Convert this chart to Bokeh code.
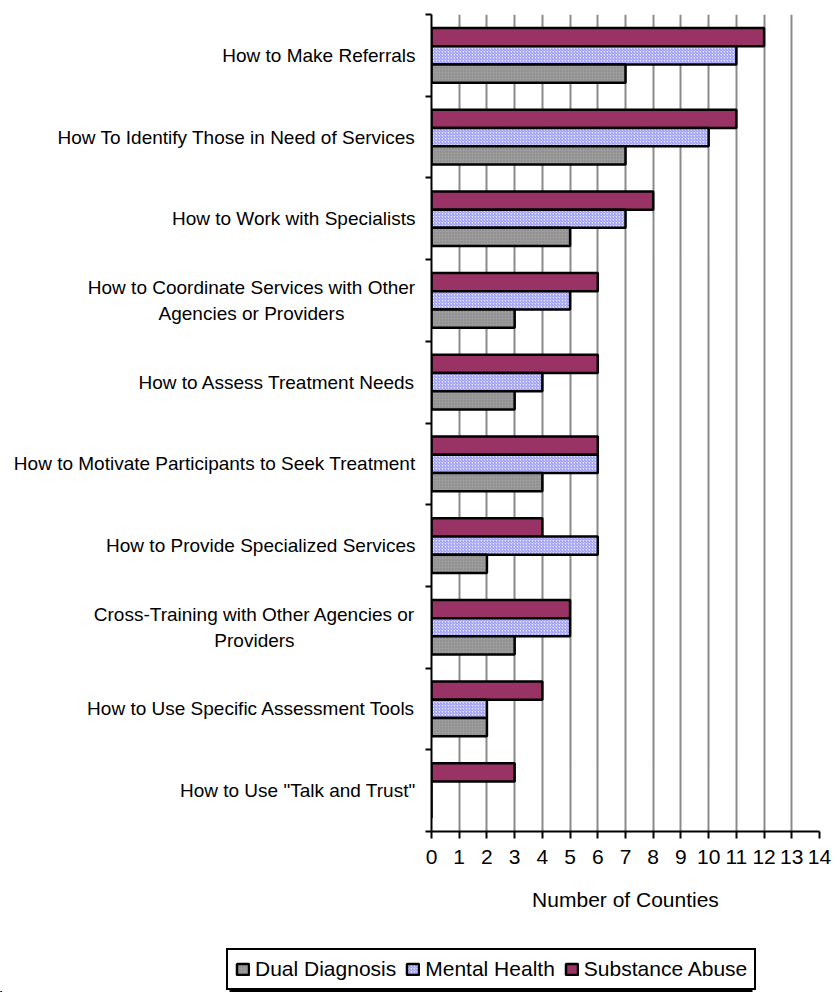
from bokeh.plotting import figure
from bokeh.layouts import column, row
from bokeh.models import (Range1d, FixedTicker, Legend, LegendItem, ColumnDataSource)
from bokeh.core.properties import value
from bokeh.embed import file_html
from bokeh.resources import INLINE

# ---------------- data ----------------
categories = [
    "How to Make Referrals",
    "How To Identify Those in Need of Services",
    "How to Work with Specialists",
    "How to Coordinate Services with Other\nAgencies or Providers",
    "How to Assess Treatment Needs",
    "How to Motivate Participants to Seek Treatment",
    "How to Provide Specialized Services",
    "Cross-Training with Other Agencies or\nProviders",
    "How to Use Specific Assessment Tools",
    'How to Use "Talk and Trust"',
]
dual_diagnosis = [7, 7, 5, 3, 3, 4, 2, 3, 2, 0]
mental_health = [11, 10, 7, 5, 4, 6, 6, 5, 2, 0]
substance_abuse = [12, 11, 8, 6, 6, 6, 4, 5, 4, 3]
series_names = ["Dual Diagnosis", "Mental Health", "Substance Abuse"]
x_ticks = list(range(0, 15))
x_title = "Number of Counties"

# ---------------- layout / style ----------------
FONT = "Liberation Sans"
BAR_H = 0.223
PAGE_W = 833
LAB_W = 421            # width of the label panel
TOP_H = 945            # height of the chart row
FRAME_TOP, FRAME_BOTTOM = 14, 831
FRAME_LEFT, FRAME_RIGHT = 431, 819
LEG_H = 47
N = len(categories)
centers = [N - 0.5 - i for i in range(N)]   # category slot centres (top to bottom)

STYLES = {
    "Substance Abuse": dict(fill_color="#993366"),
    "Mental Health": dict(fill_color="#e4e4ff", hatch_pattern="/", hatch_color="#8c8cf5",
                          hatch_scale=3, hatch_weight=1),
    "Dual Diagnosis": dict(fill_color="#9c9c9c", hatch_pattern=".", hatch_color="#7e7e7e",
                           hatch_scale=3, hatch_weight=1),
}

src = ColumnDataSource(dict(cat=categories, yc=centers,
                            y_sa=[c + BAR_H for c in centers],
                            y_mh=centers,
                            y_dd=[c - BAR_H for c in centers],
                            dd=dual_diagnosis, mh=mental_health, sa=substance_abuse))

# ---------------- main chart ----------------
p = figure(width=PAGE_W - LAB_W, height=TOP_H, output_backend="svg", toolbar_location=None,
           x_range=Range1d(0, 14), y_range=Range1d(0, N),
           min_border_left=FRAME_LEFT - LAB_W, min_border_right=PAGE_W - FRAME_RIGHT,
           min_border_top=FRAME_TOP, min_border_bottom=TOP_H - FRAME_BOTTOM)
p.outline_line_color = None
p.background_fill_color = "white"
p.border_fill_color = "white"

ya = p.yaxis[0]
ya.ticker = FixedTicker(ticks=list(range(N + 1)))
ya.major_label_text_font_size = "0px"
ya.major_label_text_color = None
ya.major_label_standoff = 0
ya.major_tick_in = 0
ya.major_tick_out = 6
ya.minor_tick_line_color = None
ya.axis_line_width = 2
ya.major_tick_line_width = 2
ya.axis_line_color = "black"
ya.major_tick_line_color = "black"
p.ygrid.grid_line_color = None

xa = p.xaxis[0]
xa.ticker = FixedTicker(ticks=x_ticks)
xa.axis_line_width = 2
xa.axis_line_color = "black"
xa.major_tick_line_width = 2
xa.major_tick_line_color = "black"
xa.major_tick_in = 0
xa.major_tick_out = 7
xa.minor_tick_line_color = None
xa.major_label_text_font = FONT
xa.major_label_text_font_size = "21px"
xa.major_label_text_color = "black"
xa.major_label_standoff = 11
xa.axis_label = x_title
xa.axis_label_text_font = FONT
xa.axis_label_text_font_size = "21px"
xa.axis_label_text_font_style = "normal"
xa.axis_label_text_color = "black"
xa.axis_label_standoff = 21

p.xgrid.ticker = FixedTicker(ticks=x_ticks[1:])
p.xgrid.grid_line_color = "#8a8a8a"
p.xgrid.grid_line_width = 2

common = dict(source=src, height=BAR_H, line_color="black", line_width=2.5)
r_sa = p.hbar(y="y_sa", left=0, right="sa", **STYLES["Substance Abuse"], **common)
r_mh = p.hbar(y="y_mh", left=0, right="mh", **STYLES["Mental Health"], **common)
r_dd = p.hbar(y="y_dd", left=0, right="dd", **STYLES["Dual Diagnosis"], **common)

# ---------------- category label panel ----------------
lf = figure(width=LAB_W, height=TOP_H, output_backend="svg", toolbar_location=None,
            x_range=Range1d(0, LAB_W), y_range=p.y_range,
            x_axis_location=None, y_axis_location=None,
            min_border_left=0, min_border_right=0,
            min_border_top=FRAME_TOP, min_border_bottom=TOP_H - FRAME_BOTTOM)
lf.outline_line_color = None
lf.grid.visible = False
lf.background_fill_color = "white"
lf.border_fill_color = "white"

single = ColumnDataSource(dict(t=[c for c in categories if "\n" not in c],
                               y=[y for c, y in zip(categories, centers) if "\n" not in c]))
multi = ColumnDataSource(dict(t=[c for c in categories if "\n" in c],
                              y=[y for c, y in zip(categories, centers) if "\n" in c],
                              x=[251, 254]))   # centres of two-line blocks (layout, px)
lf.text(x=415, y="y", text="t", source=single, text_align="right",
        text_baseline="middle", text_font=value(FONT), text_font_size="19px",
        text_color="black")
lf.text(x="x", y="y", text="t", source=multi, text_align="center",
        text_baseline="middle", text_line_height=1.25, text_font=value(FONT),
        text_font_size="19px", text_color="black")

# ---------------- legend panel ----------------
gf = figure(width=PAGE_W, height=LEG_H, output_backend="svg", toolbar_location=None,
            x_range=Range1d(0, PAGE_W), y_range=Range1d(0, LEG_H),
            x_axis_location=None, y_axis_location=None, min_border=0)
gf.outline_line_color = None
gf.grid.visible = False
gf.background_fill_color = "white"
gf.border_fill_color = "white"
# drop shadow of the legend box (decoration, pixel units)
gf.quad(left=[229], right=[752], bottom=[0], top=[41], fill_color="black", line_color=None)
# proxy renderers (placed outside the visible range) that only feed the legend
proxy = ColumnDataSource(dict(y=[-1000], r=[1]))
items = []
for name in series_names:
    rr = gf.hbar(y="y", right="r", left=0, height=1, source=proxy,
                 line_color="black", line_width=2.5, **STYLES[name])
    items.append(LegendItem(label=name, renderers=[rr]))

legend = Legend(items=items, orientation="horizontal", location=(226, 2),
                label_text_font=FONT, label_text_font_size="21px",
                label_text_color="black", glyph_width=15, glyph_height=14,
                label_standoff=5, spacing=9, padding=7, margin=0,
                border_line_color="black", border_line_width=2, border_line_alpha=1,
                background_fill_color="white", background_fill_alpha=1)
gf.add_layout(legend, "center")

layout = column(row(lf, p, spacing=0), gf, spacing=0)
open("out.html", "w").write(file_html(layout, INLINE))
